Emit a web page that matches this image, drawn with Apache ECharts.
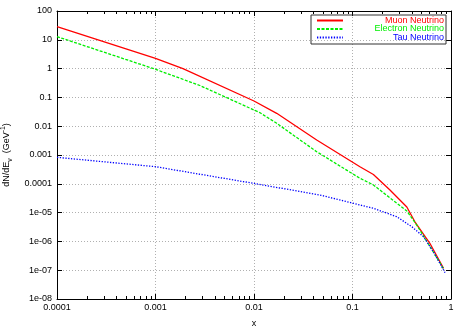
<!DOCTYPE html>
<html><head><meta charset="utf-8">
<script src="https://cdn.jsdelivr.net/npm/echarts@6/dist/echarts.min.js"></script>
<style>html,body{margin:0;padding:0;background:#fff}#c{width:467px;height:327px}</style>
</head><body><div id="c"></div>
<script>
// ---- data ----
const seriesNames = ['Muon Neutrino', 'Electron Neutrino', 'Tau Neutrino'];
const muonX = [0.0001, 0.001, 0.0019, 0.01, 0.017, 0.0433, 0.119, 0.163, 0.24, 0.356, 0.43, 0.61, 0.84];
const muonY = [28.5, 2.28, 1.0, 0.075, 0.028, 0.0033, 3.9e-4, 2.1e-4, 6.1e-5, 1.56e-5, 4.8e-6, 8.6e-7, 1.16e-7];
const electronX = [0.0001, 0.001, 0.00282, 0.0115, 0.017, 0.0433, 0.119, 0.163, 0.356, 0.449, 0.614, 0.84];
const electronY = [12.9, 0.946, 0.259, 0.0294, 0.0126, 0.0013, 1.55e-4, 9.1e-5, 1.14e-5, 3.7e-6, 6.5e-7, 1.12e-7];
const tauX = [0.0001, 0.001, 0.0091, 0.0468, 0.0746, 0.163, 0.281, 0.40, 0.525, 0.662, 0.87];
const tauY = [8.3e-4, 3.93e-4, 1.09e-4, 4.08e-5, 2.74e-5, 1.41e-5, 7.2e-6, 3.24e-6, 1.46e-6, 4.4e-7, 8.2e-8];
const xTickLabels = ['0.0001', '0.001', '0.01', '0.1', '1'];
const yTickLabels = ['1e-08', '1e-07', '1e-06', '1e-05', '0.0001', '0.001', '0.01', '0.1', '1', '10', '100'];
const xName = 'x';
// --------------------------------------

const FONT = 'Liberation Sans, Arial, sans-serif';
const zip = (xs, ys) => xs.map((x, i) => [x, ys[i]]);
const xLabel = v => xTickLabels[Math.round(Math.log10(v)) + 4] || '';
const yLabel = v => yTickLabels[Math.round(Math.log10(v)) + 8] || '';

// minor tick positions (2..9 within each decade) for the x axis
const minorTickX = [];
for (let e = -4; e < 0; e++) for (let m = 2; m <= 9; m++) minorTickX.push(m * Math.pow(10, e));

const axisLineStyle = { color: '#000', width: 1 };
const gridLine = { show: true, lineStyle: { color: '#b0b0b0', width: 1, type: [1, 2] } };

const chart = echarts.init(document.getElementById('c'), null, { renderer: 'canvas' });
chart.setOption({
  animation: false,
  backgroundColor: '#fff',
  textStyle: { fontFamily: FONT },
  grid: { left: 57, right: 16, top: 11, bottom: 28, containLabel: false, outerBoundsMode: 'none' },
  legend: {
    orient: 'vertical', left: 311, top: 15,
    padding: [1, 2, 2, 5],
    borderColor: '#333', borderWidth: 1,
    itemWidth: 26, itemHeight: 8, itemGap: -0.5,
    itemStyle: { opacity: 0 },
    data: [
      { name: seriesNames[0], textStyle: { color: '#ff0000' } },
      { name: seriesNames[1], textStyle: { color: '#00ee00' } },
      { name: seriesNames[2], textStyle: { color: '#0000ff' } }
    ],
    formatter: n => '{a|' + n + '}',
    textStyle: { fontSize: 9, lineHeight: 8, fontFamily: FONT, rich: { a: { width: 96, align: 'right', fontSize: 9, lineHeight: 8, fontFamily: FONT } } }
  },
  xAxis: [{
    type: 'log', logBase: 10, min: 0.0001, max: 1, position: 'bottom',
    axisLine: { lineStyle: axisLineStyle },
    axisTick: { inside: true, length: 5, lineStyle: axisLineStyle },
    axisLabel: { formatter: xLabel, fontSize: 9, color: '#000', margin: 4, fontFamily: FONT },
    splitLine: gridLine,
    name: xName, nameLocation: 'middle', nameGap: 20,
    nameTextStyle: { fontSize: 9, color: '#000', fontFamily: FONT }
  }, {
    type: 'log', logBase: 10, min: 0.0001, max: 1, position: 'top',
    axisLine: { lineStyle: axisLineStyle },
    axisTick: { inside: true, length: 5, lineStyle: axisLineStyle },
    axisLabel: { show: false }, splitLine: { show: false }
  }],
  yAxis: [{
    type: 'log', logBase: 10, min: 1e-8, max: 100, interval: 1, splitNumber: 10, position: 'left',
    axisLine: { lineStyle: axisLineStyle },
    axisTick: { inside: true, length: 5, lineStyle: axisLineStyle },
    axisLabel: { formatter: yLabel, fontSize: 9, color: '#000', margin: 5, fontFamily: FONT },
    splitLine: gridLine,
    name: 'dN/dE{sub|ν}  (GeV{sup|-1})', nameLocation: 'middle', nameGap: 40, nameRotate: 90,
    nameTextStyle: {
      fontSize: 9, color: '#000', fontFamily: FONT, lineHeight: 14,
      rich: {
        sub: { fontSize: 7, lineHeight: 8, verticalAlign: 'bottom', fontFamily: FONT, color: '#000' },
        sup: { fontSize: 7, lineHeight: 8, verticalAlign: 'top', fontFamily: FONT, color: '#000' }
      }
    }
  }, {
    type: 'log', logBase: 10, min: 1e-8, max: 100, interval: 1, splitNumber: 10, position: 'right',
    axisLine: { lineStyle: axisLineStyle },
    axisTick: { inside: true, length: 5, lineStyle: axisLineStyle },
    axisLabel: { show: false }, splitLine: { show: false }
  }],
  series: [
    { name: seriesNames[0], type: 'line', symbol: 'none', data: zip(muonX, muonY),
      lineStyle: { color: '#ff0000', width: 1.3, type: 'solid' }, itemStyle: { color: '#ff0000' } },
    { name: seriesNames[1], type: 'line', symbol: 'none', data: zip(electronX, electronY),
      lineStyle: { color: '#00ee00', width: 1.3, type: [3, 1.5] }, itemStyle: { color: '#00ee00' } },
    { name: seriesNames[2], type: 'line', symbol: 'none', data: zip(tauX, tauY),
      lineStyle: { color: '#0000ff', width: 1.3, type: [1.3, 1.5] }, itemStyle: { color: '#0000ff' } },
    { type: 'custom', silent: true, data: minorTickX.map(v => [v, 1e-8]),
      renderItem: (params, api) => {
        const b = api.coord([api.value(0), 1e-8]);
        const t = api.coord([api.value(0), 100]);
        const x = Math.round(b[0]) + 0.5;
        return { type: 'group', children: [
          { type: 'line', shape: { x1: x, y1: b[1], x2: x, y2: b[1] - 3 }, style: { stroke: '#000', lineWidth: 1 } },
          { type: 'line', shape: { x1: x, y1: t[1], x2: x, y2: t[1] + 3 }, style: { stroke: '#000', lineWidth: 1 } }
        ] };
      } }
  ]
});
</script></body></html>
